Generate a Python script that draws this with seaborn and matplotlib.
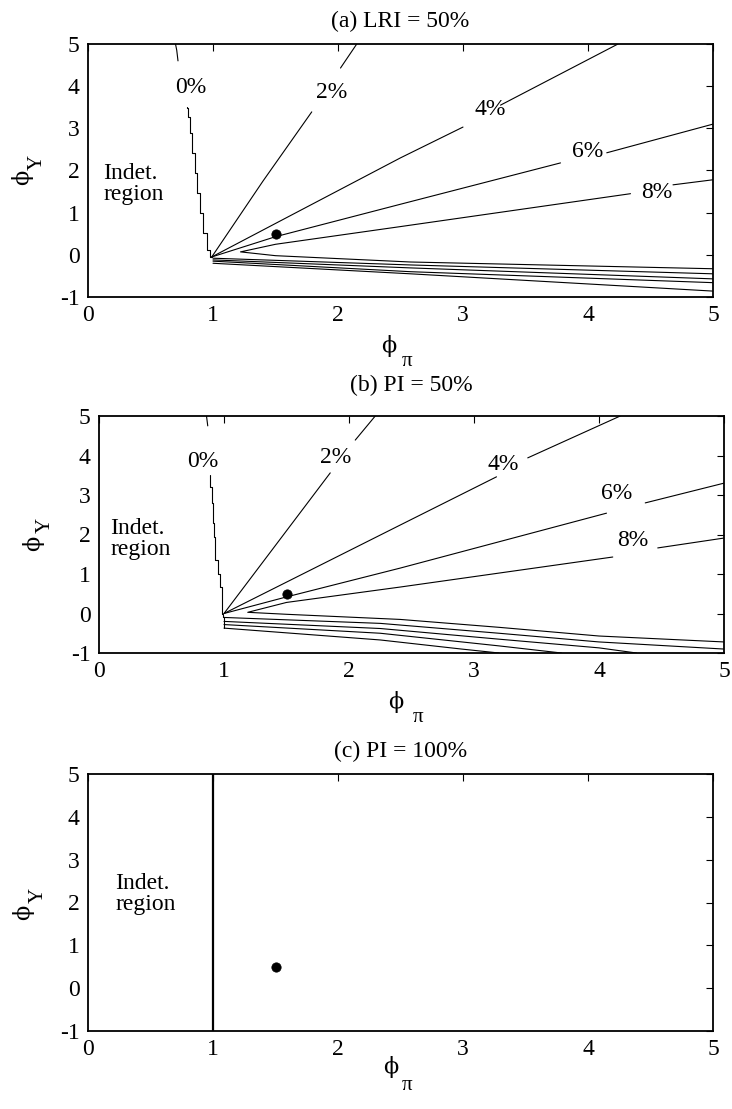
import matplotlib
matplotlib.use('Agg')
import matplotlib.pyplot as plt
import seaborn as sns

sns.set_theme(style='white')
plt.rcParams['font.family'] = ['Liberation Serif', 'DejaVu Serif']
plt.rcParams['axes.unicode_minus'] = False
plt.rcParams['text.color'] = 'black'

# --- data ---
titles = ['(a) LRI = 50%', '(b) PI = 50%', '(c) PI = 100%']
point_pi = 1.5
point_y = 0.5

# panel (a): each contour split where its label sits
a_zero = ([0.79, 0.80, 0.816, 0.832, 0.856, 0.872, 0.896, 0.92, 0.952, 0.976, 0.992],
          [3.5, 3.48, 3.27, 2.89, 2.42, 1.94, 1.47, 1.0, 0.52, 0.12, -0.05])
a_lines = [
    ([0.70, 0.71, 0.72], [5.0, 4.85, 4.6]),
    ([2.15, 2.02], [5.0, 4.43]),
    ([1.79, 1.40, 0.99], [3.39, 1.75, -0.05]),
    ([4.24, 3.3], [5.0, 3.55]),
    ([3.0, 2.5, 1.6, 0.99], [3.03, 2.3, 0.9, -0.05]),
    ([5.0, 4.15], [3.10, 2.42]),
    ([3.78, 2.5, 1.5, 0.99], [2.18, 1.2, 0.43, -0.05]),
    ([5.0, 4.68], [1.78, 1.66]),
    ([4.34, 2.5, 1.5, 1.22, 1.5, 2.58, 5.0], [1.45, 0.67, 0.25, 0.07, -0.02, -0.17, -0.33]),
    ([1.0, 2.58, 5.0], [-0.08, -0.24, -0.45]),
    ([1.0, 2.58, 5.0], [-0.12, -0.31, -0.57]),
    ([1.0, 2.58, 5.0], [-0.15, -0.40, -0.66]),
    ([1.0, 2.58, 5.0], [-0.20, -0.45, -0.86]),
]
a_labels = ['0%', '2%', '4%', '6%', '8%']
a_label_x = [0.82, 1.95, 3.22, 4.0, 4.55]
a_label_y = [3.96, 3.84, 3.44, 2.44, 1.49]

# panel (b)
b_zero = ([0.89, 0.90, 0.91, 0.92, 0.93, 0.95, 0.97, 0.98, 0.99, 1.0, 1.0],
          [3.51, 3.2, 2.80, 2.3, 1.94, 1.35, 1.0, 0.67, 0.0, -0.1, -0.37])
b_lines = [
    ([0.86, 0.87], [5.0, 4.75]),
    ([2.21, 2.05], [5.0, 4.39]),
    ([1.85, 1.0], [3.56, 0.0]),
    ([4.17, 3.43], [5.0, 3.94]),
    ([3.18, 2.41, 1.0], [3.46, 2.24, 0.0]),
    ([5.0, 4.37], [3.30, 2.80]),
    ([4.06, 2.41, 1.5, 1.0], [2.54, 1.15, 0.42, 0.0]),
    ([5.0, 4.47], [1.91, 1.66]),
    ([4.11, 2.41, 1.5, 1.19, 1.5, 2.41, 3.2, 4.0, 5.0],
     [1.43, 0.67, 0.28, 0.03, -0.02, -0.15, -0.35, -0.57, -0.72]),
    ([1.0, 2.25, 3.2, 4.0, 5.0], [-0.10, -0.25, -0.50, -0.72, -0.90]),
    ([1.0, 2.25, 3.2, 4.0, 4.3], [-0.20, -0.38, -0.65, -0.87, -1.0]),
    ([1.0, 2.25, 3.2, 3.7], [-0.28, -0.50, -0.82, -1.0]),
    ([1.0, 2.25, 2.9, 3.2], [-0.37, -0.67, -0.90, -1.0]),
]
b_labels = ['0%', '2%', '4%', '6%', '8%']
b_label_x = [0.83, 1.89, 3.23, 4.14, 4.27]
b_label_y = [3.84, 3.96, 3.76, 3.05, 1.86]

# panel (c) boundary
c_lines = [([1.0, 1.0], [-1.0, 5.0])]

x_ticks = [0, 1, 2, 3, 4, 5]
y_ticks = [-1, 0, 1, 2, 3, 4, 5]

# --- layout (figure pixel boxes: left, top, right, bottom) ---
W, H = 732, 1109
boxes = [(88, 44, 713, 297), (99, 416, 724, 653), (88, 774, 713, 1031)]
title_pad = [12, 18, 12]
indet_xy = [(0.12, 1.68), (0.09, 1.89), (0.22, 2.2)]
ylab_px = [((22, 177), (37, 162)), ((33, 543), (45, 525)), ((23, 912), (38, 895))]
xlab_px = [((-12, 49), (7, 64)), ((-16, 49), (7, 64)), ((-10, 36), (7, 54))]
fs = 17

fig = plt.figure(figsize=(W / 100, H / 100), dpi=100)
panels = [(a_zero, a_lines, a_labels, a_label_x, a_label_y),
          (b_zero, b_lines, b_labels, b_label_x, b_label_y),
          (None, c_lines, [], [], [])]

for i, (zero, lines, labs, lx, ly) in enumerate(panels):
    l, t, r, b = boxes[i]
    ax = fig.add_axes([l / W, 1 - b / H, (r - l) / W, (b - t) / H])
    lw = 1.6 if i == 2 else 0.8
    for xs, ys in lines:
        sns.lineplot(x=xs, y=ys, sort=False, estimator=None, color='black', lw=lw, ax=ax)
    if zero is not None:
        sns.lineplot(x=zero[0], y=zero[1], sort=False, estimator=None, color='black',
                     lw=lw, drawstyle='steps-pre', ax=ax)
    for lab, x, y in zip(labs, lx, ly):
        ax.text(x, y, lab, ha='center', va='center', fontsize=fs, zorder=5)
    sns.scatterplot(x=[point_pi], y=[point_y], color='black', s=45, marker='o',
                    edgecolor='black', ax=ax, zorder=6)
    ax.text(indet_xy[i][0], indet_xy[i][1], 'Indet.\nregion', ha='left', va='center',
            fontsize=fs, linespacing=1.0)
    ax.set_xlim(0, 5)
    ax.set_ylim(-1, 5)
    ax.set_xticks(x_ticks)
    ax.set_yticks(y_ticks)
    ax.tick_params(direction='in', length=5, width=0.8, top=True, right=True,
                   labelsize=fs, pad=6, colors='black')
    for s in ax.spines.values():
        s.set_color('black')
        s.set_linewidth(1.3)
    ax.set_title(titles[i], fontsize=fs, pad=title_pad[i], color='black')
    # axis labels: phi with subscripts
    cx = (l + r) / 2
    (dx1, dy1), (dx2, dy2) = xlab_px[i]
    fig.text((cx + dx1) / W, 1 - (b + dy1) / H, 'ϕ', ha='center', va='center',
             fontsize=16, family=['DejaVu Serif'])
    fig.text((cx + dx2) / W, 1 - (b + dy2) / H, 'π', ha='center', va='center', fontsize=15)
    (px, py), (sx, sy) = ylab_px[i]
    fig.text(px / W, 1 - py / H, 'ϕ', ha='center', va='center', fontsize=16, rotation=90,
             family=['DejaVu Serif'])
    fig.text(sx / W, 1 - sy / H, 'Y', ha='center', va='center', fontsize=15, rotation=90)

fig.savefig('out.png', dpi=100)
